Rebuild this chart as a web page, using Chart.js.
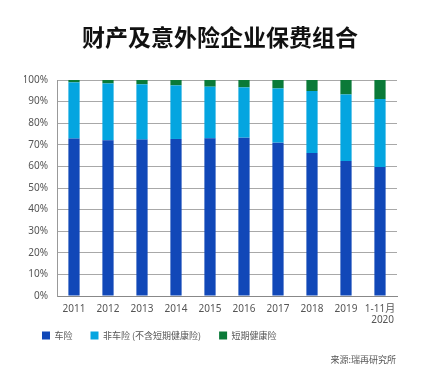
<!DOCTYPE html>
<html><head><meta charset="utf-8">
<script src="https://cdn.jsdelivr.net/npm/chart.js@4/dist/chart.umd.min.js"></script>
<style>
html,body{margin:0;padding:0;background:#fff;}
#wrap{position:relative;width:438px;height:379px;}
#title{position:absolute;left:0;width:440px;top:21px;text-align:center;font:bold 23px "Noto Sans CJK SC",sans-serif;color:#111;line-height:30px;}
#src{position:absolute;right:42px;top:353px;font:9px "Noto Sans CJK SC","Noto Sans",sans-serif;color:#555;}
</style></head>
<body><div id="wrap"><canvas id="c" width="438" height="379"></canvas>
<div id="title">财产及意外险企业保费组合</div>
<div id="src">来源:瑞再研究所</div></div>
<script>
const categories = ['2011','2012','2013','2014','2015','2016','2017','2018','2019',['1-11月','  2020']];
const motor = [72.9,72.1,72.4,72.7,73.0,73.3,71.0,66.2,62.5,59.7];
const nonMotor = [26.0,26.3,25.6,24.8,23.9,23.3,25.1,28.7,30.8,31.5];
const health = [1.1,1.6,2.0,2.5,3.1,3.4,3.9,5.1,6.7,8.8];
const yTicks = [0,10,20,30,40,50,60,70,80,90,100];
const seriesNames = ['车险','非车险 (不含短期健康险)','短期健康险'];
const colors = ['#1148b8','#04a5e0','#0a7a38'];
const font = '"Noto Sans","Noto Sans CJK SC",sans-serif';

const legendShift = {
  id: 'legendShift',
  afterLayout(chart) {
    const lg = chart.legend;
    if (!lg) return;
    const dy = 331 - 18 - lg.top;
    lg.top += dy; lg.bottom += dy;
    if (lg.legendHitBoxes) lg.legendHitBoxes.forEach(b => b.top += dy);
  }
};

new Chart(document.getElementById('c'), {
  type: 'bar',
  data: {
    labels: categories,
    datasets: [
      {label: seriesNames[0], data: motor, backgroundColor: colors[0]},
      {label: seriesNames[1], data: nonMotor, backgroundColor: colors[1]},
      {label: seriesNames[2], data: health, backgroundColor: colors[2]}
    ]
  },
  plugins: [legendShift],
  options: {
    responsive: false,
    animation: false,
    layout: {padding: {left: 24, right: 41, top: 80, bottom: 8}},
    datasets: {bar: {categoryPercentage: 1, barPercentage: 0.33}},
    plugins: {
      title: {display: false},
      legend: {position: 'bottom', align: 'start',
        labels: {boxWidth: 8, boxHeight: 8, padding: 18, color: '#555',
          font: {family: '"Noto Sans CJK SC",sans-serif', size: 9}}},
      tooltip: {enabled: false}
    },
    scales: {
      x: {stacked: true,
        grid: {display: false, drawTicks: false},
        border: {color: '#888', width: 1},
        ticks: {color: '#555', font: {family: font, size: 10, lineHeight: 1.1}, padding: 8, maxRotation: 0, autoSkip: false}
      },
      y: {stacked: true, min: 0, max: 100,
        afterBuildTicks: s => { s.ticks = yTicks.map(v => ({value: v})); },
        afterFit: s => { s.width = 33; },
        grid: {color: '#a8a8a8', drawTicks: false},
        border: {color: '#999', width: 1},
        ticks: {color: '#555', font: {family: font, size: 10}, padding: 9, callback: v => v + '%'}
      }
    }
  }
});
</script></body></html>
